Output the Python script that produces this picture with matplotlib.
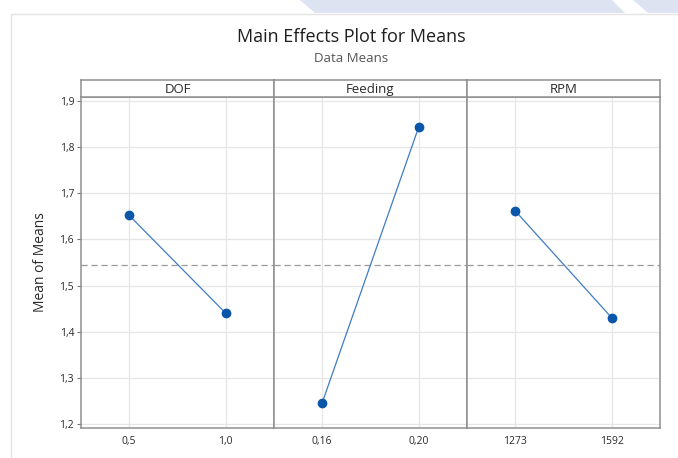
import matplotlib.pyplot as plt
from matplotlib.patches import Polygon

# factor levels and the mean response at each level
factors = ["DOF", "Feeding", "RPM"]
level_labels = [["0,5", "1,0"], ["0,16", "0,20"], ["1273", "1592"]]
level_means = [[1.652, 1.440], [1.246, 1.844], [1.662, 1.430]]
grand_mean = 1.5455

y_ticks = [1.2, 1.3, 1.4, 1.5, 1.6, 1.7, 1.8, 1.9]
y_tick_labels = ["1,2", "1,3", "1,4", "1,5", "1,6", "1,7", "1,8", "1,9"]

W, H = 678, 458
plt.rcParams['font.family'] = ['Open Sans', 'DejaVu Sans']
fig = plt.figure(figsize=(W / 100, H / 100), dpi=100)

# page decoration behind the chart
bg = fig.add_axes([0, 0, 1, 1])
bg.set_xlim(0, W)
bg.set_ylim(H, 0)
bg.axis("off")
band = "#dde3f1"
bg.add_patch(Polygon([(300, 0), (612, 0), (625, 13), (315, 13)], closed=True, color=band, lw=0))
bg.add_patch(Polygon([(633, 0), (W, 0), (W, 13), (648, 13)], closed=True, color=band, lw=0))
bg.plot([11, 11, W], [H, 14, 14], color="#e4e4e4", lw=1)

fig.text(351 / W, 1 - 37 / H, "Main Effects Plot for Means", ha="center", va="center",
         fontsize=13, color="#1e1e1e", fontweight="medium")
fig.text(351 / W, 1 - 59 / H, "Data Means", ha="center", va="center",
         fontsize=9.5, color="#555555")

left, right = 81, 660
top, bottom = 97, 428
strip_top = 80
pw = (right - left) / 3
frame = "#8f8f8f"

for i, name in enumerate(factors):
    x0 = left + i * pw
    ax = fig.add_axes([x0 / W, 1 - bottom / H, pw / W, (bottom - top) / H])
    xs = [0, 1]
    ax.axhline(grand_mean, color="#9a9a9a", lw=0.9, ls=(0, (5, 3)), zorder=2)
    ax.plot(xs, level_means[i], color="#3f7cc4", lw=0.9, zorder=3)
    ax.plot(xs, level_means[i], "o", color="#0a56a8", ms=6, zorder=4)
    ax.set_xlim(-0.5, 1.5)
    ax.set_ylim(1.191, 1.909)
    ax.set_xticks(xs)
    ax.set_xticklabels(level_labels[i], fontsize=7.5, color="#2a2a2a")
    ax.set_yticks(y_ticks)
    ax.grid(True, color="#e6e6e6", lw=0.9, zorder=0)
    ax.set_axisbelow(True)
    ax.tick_params(axis="x", length=0, pad=6)
    if i == 0:
        ax.set_yticklabels(y_tick_labels, fontsize=7.5, color="#2a2a2a")
        ax.tick_params(axis="y", length=3, color="#777777", pad=2)
        ax.set_ylabel("Mean of Means", fontsize=10, color="#2a2a2a", labelpad=8)
    else:
        ax.tick_params(axis="y", length=0, labelleft=False)
    for s in ax.spines.values():
        s.set_color(frame)
        s.set_linewidth(1.1)

    # strip header with factor name
    sx = fig.add_axes([x0 / W, 1 - top / H, pw / W, (top - strip_top) / H])
    sx.set_xticks([])
    sx.set_yticks([])
    for s in sx.spines.values():
        s.set_color(frame)
        s.set_linewidth(1.1)
    sx.text(0.5, 0.45, name, ha="center", va="center", fontsize=9.5, color="#2a2a2a",
            transform=sx.transAxes)

fig.savefig("out.png", dpi=100)
